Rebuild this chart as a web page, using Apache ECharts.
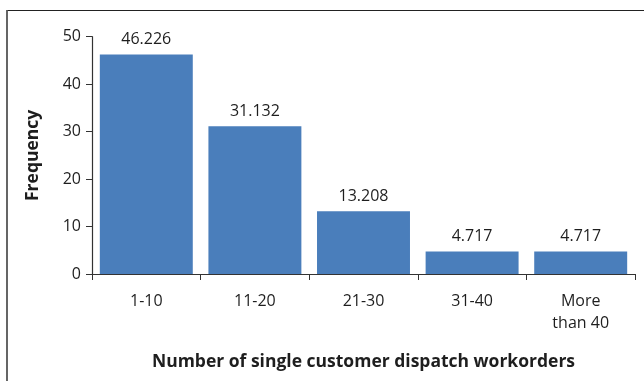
<!DOCTYPE html>
<html>
<head>
<meta charset="utf-8">
<script src="https://cdn.jsdelivr.net/npm/echarts@6/dist/echarts.min.js"></script>
<style>
  html, body { margin: 0; padding: 0; background: #fff; }
  #chart { width: 644px; height: 381px; }
</style>
</head>
<body>
<div id="chart"></div>
<script>
// Frequency of single customer dispatch workorders per range
const categories = ['1-10', '11-20', '21-30', '31-40', 'More\nthan 40'];
const frequency = [46.226, 31.132, 13.208, 4.717, 4.717];
const yTicks = [0, 10, 20, 30, 40, 50];

const FONT = '"Open Sans", "Noto Sans", sans-serif';
const TEXT = '#1e1e1e';

const chart = echarts.init(document.getElementById('chart'), null, { renderer: 'canvas' });

chart.setOption({
  backgroundColor: '#fff',
  animation: false,
  graphic: [
    // frame around the chart area
    { type: 'line', shape: { x1: 7, y1: 10.5, x2: 644, y2: 10.5 }, style: { stroke: '#222', lineWidth: 1.2 } },
    { type: 'line', shape: { x1: 7, y1: 10, x2: 7, y2: 381 }, style: { stroke: '#555', lineWidth: 1.8 } }
  ],
  grid: { left: 92, right: 9, top: 36.7, bottom: 107, containLabel: false },
  xAxis: {
    type: 'category',
    data: categories,
    name: 'Number of single customer dispatch workorders',
    nameLocation: 'middle',
    nameGap: 79,
    nameTextStyle: { fontFamily: FONT, fontSize: 17.5, fontWeight: 'bold', color: TEXT },
    axisLine: { lineStyle: { color: '#333', width: 1.2 } },
    axisTick: { show: true, length: 6, alignWithLabel: false, lineStyle: { color: '#333' } },
    axisLabel: { fontFamily: FONT, fontSize: 16, color: TEXT, margin: 16, lineHeight: 22 }
  },
  yAxis: {
    type: 'value',
    min: yTicks[0],
    max: yTicks[yTicks.length - 1],
    interval: yTicks[1] - yTicks[0],
    name: 'Frequency',
    nameLocation: 'middle',
    nameGap: 50,
    nameTextStyle: { fontFamily: FONT, fontSize: 17.5, fontWeight: 'bold', color: TEXT },
    axisLine: { show: true, lineStyle: { color: '#333', width: 1.2 } },
    axisTick: { show: true, length: 6, lineStyle: { color: '#333' } },
    splitLine: { show: false },
    axisLabel: { fontFamily: FONT, fontSize: 16, color: TEXT, margin: 11 }
  },
  series: [{
    type: 'bar',
    data: frequency,
    barCategoryGap: '14.4%',
    itemStyle: { color: '#4a7ebb' },
    label: {
      show: true,
      position: 'top',
      distance: 7,
      fontFamily: FONT,
      fontSize: 16,
      color: TEXT,
      formatter: p => p.value.toFixed(3)
    }
  }]
});
</script>
</body>
</html>
